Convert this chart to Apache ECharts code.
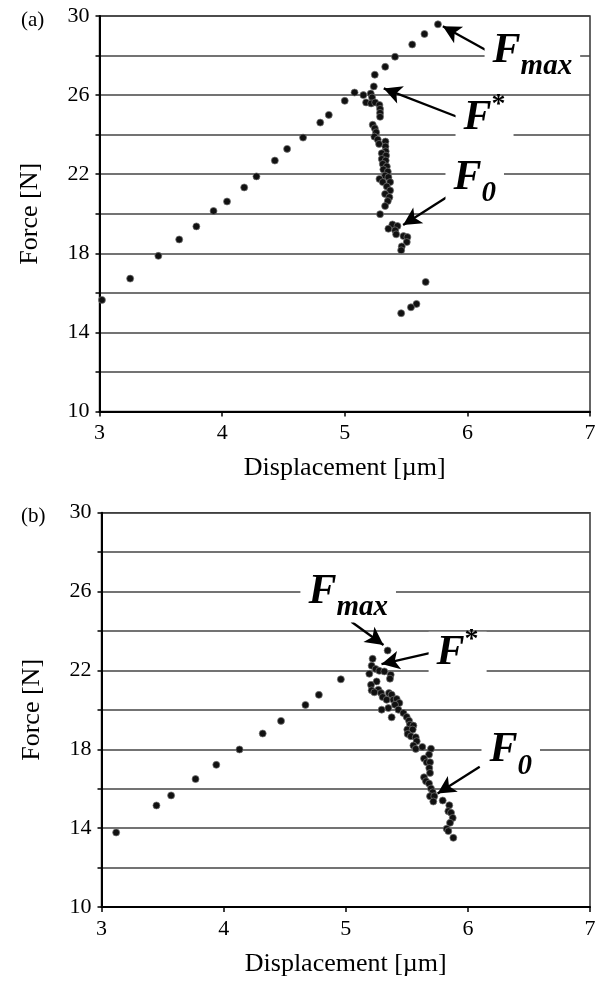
<!DOCTYPE html>
<html>
<head>
<meta charset="utf-8">
<script src="https://cdn.jsdelivr.net/npm/echarts@6/dist/echarts.min.js"></script>
<style>
  html, body { margin: 0; padding: 0; background: #fff; }
  #chart { width: 603px; height: 983px; }
</style>
</head>
<body>
<div id="chart"></div>
<script>
// panel (a) readings
const dispA = [3.02, 3.25, 3.48, 3.65, 3.79, 3.93, 4.04, 4.18, 4.28, 4.43, 4.53, 4.66, 4.80, 4.87, 5.00, 5.08,
  5.152, 5.212, 5.223, 5.174, 5.215, 5.248, 5.283, 5.288, 5.288, 5.288, 5.228, 5.245, 5.256, 5.242, 5.269, 5.28,
  5.332, 5.332, 5.334, 5.302, 5.337, 5.302, 5.334, 5.31, 5.343, 5.315, 5.351, 5.329, 5.356, 5.283, 5.31, 5.37,
  5.343, 5.37, 5.329, 5.364, 5.351, 5.329, 5.288, 5.389, 5.356, 5.43, 5.411, 5.419, 5.479, 5.511, 5.506, 5.465, 5.46,
  5.237, 5.245, 5.33, 5.41, 5.55, 5.65, 5.76,
  5.66, 5.585, 5.54, 5.46];
const forceA = [15.64, 16.72, 17.87, 18.7, 19.36, 20.14, 20.62, 21.33, 21.89, 22.69, 23.28, 23.85, 24.61, 25.0, 25.71, 26.13,
  26.0, 26.08, 25.88, 25.63, 25.58, 25.63, 25.5, 25.3, 25.1, 24.9, 24.5, 24.32, 24.12, 23.9, 23.75, 23.53,
  23.65, 23.4, 23.16, 23.06, 22.94, 22.77, 22.69, 22.52, 22.39, 22.24, 22.13, 21.93, 21.85, 21.76, 21.6, 21.6,
  21.38, 21.18, 21.0, 20.84, 20.64, 20.39, 19.98, 19.46, 19.24, 19.38, 19.16, 18.96, 18.87, 18.82, 18.57, 18.35, 18.15,
  26.44, 27.03, 27.43, 27.94, 28.56, 29.09, 29.58,
  16.55, 15.44, 15.27, 14.97];

// panel (b) readings
const dispB = [3.12, 3.45, 3.57, 3.77, 3.94, 4.13, 4.32, 4.47, 4.67, 4.78, 4.96,
  5.343, 5.22, 5.212, 5.245, 5.275, 5.316, 5.368, 5.193, 5.362, 5.253, 5.207, 5.212, 5.267, 5.234, 5.289, 5.354,
  5.302, 5.376, 5.335, 5.39, 5.417, 5.439, 5.403, 5.349, 5.294, 5.431, 5.376, 5.472, 5.499, 5.518, 5.526, 5.554,
  5.504, 5.548, 5.507, 5.534, 5.573, 5.581, 5.554, 5.573, 5.627, 5.698, 5.682, 5.641, 5.663, 5.69, 5.684, 5.69,
  5.641, 5.657, 5.682, 5.698, 5.712, 5.69, 5.725, 5.717, 5.794, 5.848, 5.84, 5.862, 5.876, 5.854, 5.826, 5.84, 5.881];
const forceB = [13.78, 15.15, 15.66, 16.49, 17.21, 17.99, 18.8, 19.44, 20.25, 20.76, 21.55,
  23.01, 22.59, 22.24, 22.07, 21.98, 21.95, 21.78, 21.83, 21.58, 21.44, 21.27, 20.99, 21.02, 20.89, 20.85, 20.85,
  20.65, 20.77, 20.51, 20.51, 20.55, 20.35, 20.26, 20.09, 20.01, 20.01, 19.62, 19.84, 19.64, 19.45, 19.25, 19.2,
  19.0, 19.0, 18.78, 18.66, 18.61, 18.41, 18.19, 18.02, 18.12, 18.03, 17.73, 17.53, 17.34, 17.34, 17.05, 16.8,
  16.58, 16.38, 16.26, 16.01, 15.82, 15.62, 15.62, 15.35, 15.4, 15.16, 14.86, 14.78, 14.52, 14.27, 13.97, 13.85, 13.51];

const xTicks = [3, 4, 5, 6, 7];
const yTickLabels = [10, 14, 18, 22, 26, 30];

// annotations: label centre, arrow tail, arrow head (data coords)
const notesA = [
  { text: '{f|F}{sub|max}', at: [6.53, 27.75], from: [6.15, 28.28], to: [5.80, 29.48] },
  { text: '{fs|F}{sup|*}', at: [6.14, 24.85], from: [5.947, 24.83], to: [5.318, 26.34] },
  { text: '{f|F}{sub|0}', at: [6.06, 21.35], from: [5.837, 20.86], to: [5.476, 19.43] }
];
const notesB = [
  { text: '{f|F}{sub|max}', at: [5.02, 25.5], from: [5.046, 24.47], to: [5.309, 23.29] },
  { text: '{fs|F}{sup|*}', at: [5.916, 22.9], from: [5.704, 22.9], to: [5.293, 22.32] },
  { text: '{f|F}{sub|0}', at: [6.351, 17.48], from: [6.097, 17.11], to: [5.752, 15.76] }
];

const serif = '"Liberation Serif", "DejaVu Serif", serif';
const rich = {
  f: { fontFamily: serif, fontStyle: 'italic', fontWeight: 'bold', fontSize: 42, color: '#000',
       lineHeight: 42, padding: [0, 0, 9, 0], verticalAlign: 'bottom' },
  fs: { fontFamily: serif, fontStyle: 'italic', fontWeight: 'bold', fontSize: 42, color: '#000',
       lineHeight: 42, verticalAlign: 'bottom' },
  sub: { fontFamily: serif, fontStyle: 'italic', fontWeight: 'bold', fontSize: 29, color: '#000',
       lineHeight: 29, verticalAlign: 'bottom' },
  sup: { fontFamily: serif, fontWeight: 'bold', fontSize: 28, color: '#000',
       lineHeight: 28, padding: [0, 0, 20, 0], verticalAlign: 'bottom' }
};

function zip(xs, ys) { return xs.map((x, i) => [x, ys[i]]); }

function buildSeries(idx, data, notes) {
  return {
    type: 'scatter',
    xAxisIndex: idx,
    yAxisIndex: idx,
    data: data,
    symbolSize: 7,
    itemStyle: { color: '#111', borderColor: '#777', borderWidth: 0.7, opacity: 1 },
    z: 3,
    markLine: {
      silent: true,
      symbol: ['none', 'arrow'],
      symbolSize: [14, 18],
      label: { show: false },
      lineStyle: { color: '#000', width: 2.3, type: 'solid' },
      data: notes.map(n => [{ coord: n.from }, { coord: n.to }])
    },
    markPoint: {
      silent: true,
      symbol: 'circle',
      symbolSize: 1,
      itemStyle: { color: 'rgba(0,0,0,0)' },
      label: {
        show: true,
        position: 'inside',
        backgroundColor: '#fff',
        padding: [0, 8, 0, 8],
        rich: rich
      },
      data: notes.map(n => ({ coord: n.at, label: { formatter: n.text } }))
    }
  };
}

function xAxisFor(idx) {
  return {
    type: 'value', gridIndex: idx, min: xTicks[0], max: xTicks[xTicks.length - 1], interval: 1,
    name: 'Displacement [µm]', nameLocation: 'middle', nameGap: 44,
    nameTextStyle: { fontFamily: serif, fontSize: 26, color: '#000' },
    axisLine: { show: true, lineStyle: { color: '#000', width: 2 } },
    axisTick: { show: true, length: 5, lineStyle: { color: '#000', width: 1.5 } },
    axisLabel: { fontFamily: serif, fontSize: 22, color: '#000', margin: 11 },
    splitLine: { show: false }
  };
}

function yAxisFor(idx) {
  return {
    type: 'value', gridIndex: idx, min: 10, max: 30, interval: 2,
    name: 'Force [N]', nameLocation: 'middle', nameGap: 56,
    nameTextStyle: { fontFamily: serif, fontSize: 26, color: '#000' },
    axisLine: { show: true, lineStyle: { color: '#000', width: 2 } },
    axisTick: { show: true, length: 4, lineStyle: { color: '#000', width: 1.5 } },
    axisLabel: {
      fontFamily: serif, fontSize: 22, color: '#000', margin: 10,
      formatter: v => (yTickLabels.includes(v) ? String(v) : '')
    },
    splitLine: { show: true, lineStyle: { color: '#444', width: 1.6 } }
  };
}

const chart = echarts.init(document.getElementById('chart'), null, { renderer: 'canvas' });
chart.setOption({
  animation: false,
  backgroundColor: '#fff',
  title: [
    { text: '(a)', left: 16, top: 5, textStyle: { fontFamily: serif, fontSize: 21, fontWeight: 'normal', color: '#000' } },
    { text: '(b)', left: 16, top: 501, textStyle: { fontFamily: serif, fontSize: 21, fontWeight: 'normal', color: '#000' } }
  ],
  grid: [
    { left: 99.5, top: 16, width: 490.5, height: 395.5, show: true, borderColor: '#333', borderWidth: 1.5, backgroundColor: 'transparent' },
    { left: 101.5, top: 512.7, width: 488.5, height: 394.3, show: true, borderColor: '#333', borderWidth: 1.5, backgroundColor: 'transparent' }
  ],
  xAxis: [xAxisFor(0), xAxisFor(1)],
  yAxis: [yAxisFor(0), yAxisFor(1)],
  series: [
    buildSeries(0, zip(dispA, forceA), notesA),
    buildSeries(1, zip(dispB, forceB), notesB)
  ]
});
</script>
</body>
</html>
